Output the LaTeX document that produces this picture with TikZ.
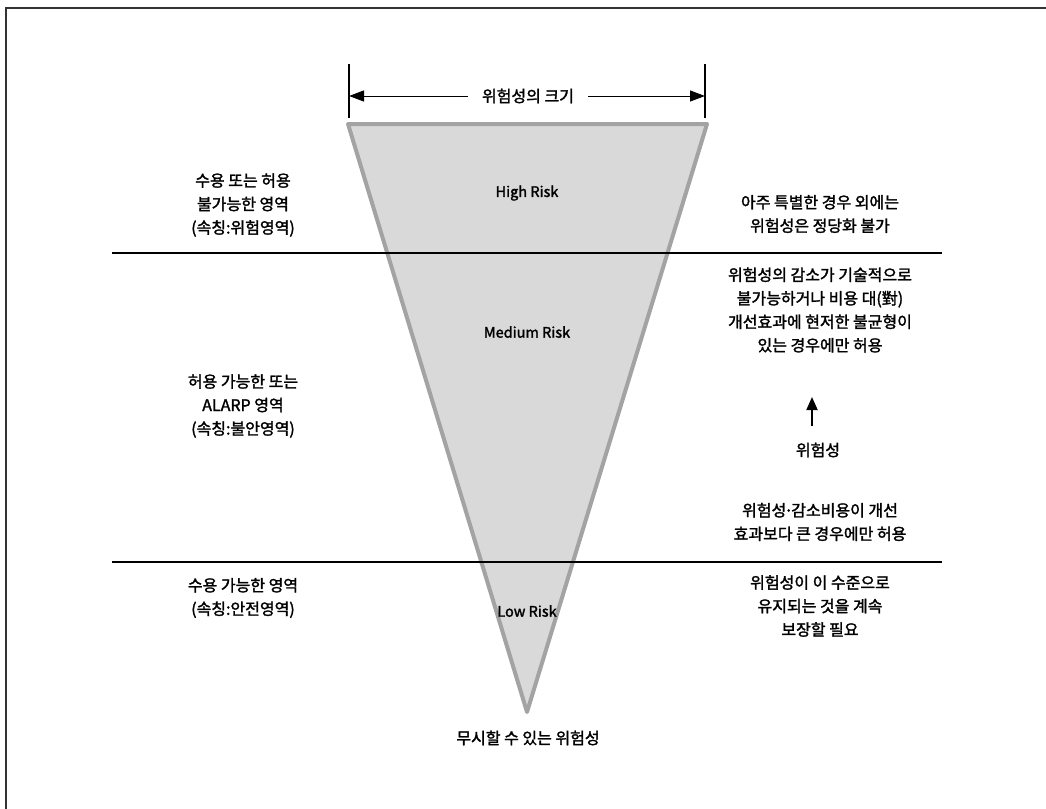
\documentclass[tikz,border=0pt]{standalone}
\usepackage{fontspec}
\setmainfont[FakeBold=1.8]{Noto Sans CJK KR}
\newfontfamily\medfont[FakeBold=1.8]{Noto Sans CJK KR}
\usetikzlibrary{arrows.meta}
\begin{document}
\begin{tikzpicture}[x=1pt,y=-1pt,
  lbl/.style={align=center,font=\medfont\fontsize{16}{23.5}\selectfont,inner sep=0pt},
  risk/.style={align=center,font=\medfont\fontsize{14.5}{16}\selectfont,inner sep=0pt},
  zone/.style={line width=1.8pt,black},
  bar/.style={line width=1.5pt,black},
  dimarrow/.style={line width=1pt,-{Triangle[length=15pt,width=11pt]}}]
\useasboundingbox (0,0) rectangle (1046,808);
% frame (top and left)
\draw[line width=1.5pt,black!80] (6,812) -- (6,8) -- (1050,8);
% triangle
\coordinate (tl) at (348,124);
\coordinate (tr) at (707,124);
\coordinate (ap) at (527,712);
\draw[line width=4pt,draw=black!36,fill=black!15,line join=round] (tl) -- (tr) -- (ap) -- cycle;
% dimension bars
\coordinate (b1t) at (349,64);
\coordinate (b1b) at (349,118);
\coordinate (b2t) at (705,64);
\coordinate (b2b) at (705,118);
\draw[bar] (b1t) -- (b1b);
\draw[bar] (b2t) -- (b2b);
\node[lbl] (dim) at (528,96) {위험성의 크기};
\coordinate (dl) at (349,96);
\coordinate (dr) at (705,96);
\draw[dimarrow] ([xshift=-14pt]dim.west) -- (dl);
\draw[dimarrow] ([xshift=14pt]dim.east) -- (dr);
% zone lines
\coordinate (z1l) at (112,253);
\coordinate (z1r) at (942,253);
\coordinate (z2l) at (112,562);
\coordinate (z2r) at (942,562);
\draw[zone] (z1l) -- (z1r);
\draw[zone] (z2l) -- (z2r);
% risk labels
\node[risk] (hr) at (527,193) {High Risk};
\node[risk] (mr) at (527,332) {Medium Risk};
\node[risk] (lr) at (527,611) {Low Risk};
% left labels
\node[lbl] (l1) at (243,205) {수용 또는 허용\\불가능한 영역\\(속칭:위험영역)};
\node[lbl] (l2) at (243,406) {허용 가능한 또는\\ALARP 영역\\(속칭:불안영역)};
\node[lbl] (l3) at (243,598) {수용 가능한 영역\\(속칭:안전영역)};
% right labels
\node[lbl] (r1) at (820,214) {아주 특별한 경우 외에는\\위험성은 정당화 불가};
\node[lbl] (r2) at (820,310) {위험성의 감소가 기술적으로\\불가능하거나 비용 대(對)\\개선효과에 현저한 불균형이\\있는 경우에만 허용};
\node[lbl] (rk) at (818,450) {위험성};
\coordinate (ra) at (812,397);
\draw[line width=1.8pt,-{Triangle[length=13pt,width=11pt]}] ([yshift=17pt]rk.north -| ra) -- (ra);
\node[lbl] (r3) at (820,522) {위험성\hspace{-2pt}·\hspace{-2pt}감소비용이 개선\\효과보다 큰 경우에만 허용};
\node[lbl] (r4) at (820,606) {위험성이 이 수준으로\\유지되는 것을 계속\\보장할 필요};
% bottom
\node[lbl] (neg) at (528,738) {무시할 수 있는 위험성};
\end{tikzpicture}
\end{document}
